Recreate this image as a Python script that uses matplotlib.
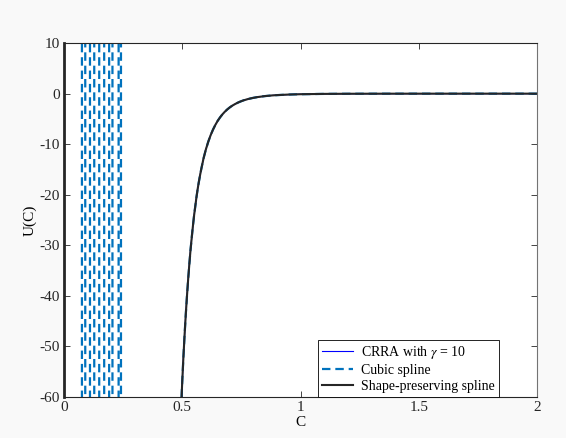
import numpy as np
import matplotlib.pyplot as plt

plt.rcParams['font.family'] = ['Liberation Serif', 'DejaVu Serif']
plt.rcParams['mathtext.fontset'] = 'stix'
plt.rcParams['axes.unicode_minus'] = False

# CRRA utility (gamma = 10)
c_vals = [0.497, 0.50, 0.505, 0.51, 0.515, 0.52, 0.525, 0.53, 0.535, 0.54, 0.545,
          0.55, 0.56, 0.565, 0.57, 0.575, 0.58, 0.59, 0.60, 0.61, 0.62, 0.63,
          0.64, 0.65, 0.66, 0.67, 0.68, 0.69, 0.70, 0.71, 0.72, 0.73, 0.74,
          0.75, 0.76, 0.78, 0.80, 0.82, 0.85, 0.88, 0.90, 0.95, 1.00, 1.10,
          1.20, 1.35, 1.50, 1.75, 2.00]
u_vals = [-60.1, -56.9, -52.0, -47.6, -43.6, -40.0, -36.7, -33.7, -30.9, -28.5,
          -26.2, -24.1, -20.5, -18.9, -17.5, -16.2, -15.0, -12.8, -11.0, -9.50,
          -8.21, -7.11, -6.17, -5.36, -4.68, -4.08, -3.57, -3.13, -2.75, -2.42,
          -2.14, -1.89, -1.67, -1.48, -1.31, -1.04, -0.83, -0.663, -0.48,
          -0.351, -0.29, -0.176, -0.111, -0.047, -0.0215, -0.0075, -0.003,
          -0.0007, -0.0002]

# cubic spline blows up near zero: near-vertical swings off the chart
swing_x = [0.074, 0.078, 0.088, 0.092, 0.108, 0.112, 0.126, 0.130, 0.147, 0.151,
           0.168, 0.172, 0.189, 0.193, 0.203, 0.207, 0.229, 0.233, 0.239, 0.243]
swing_y = [-1e4, 1e4, 1e4, -1e4, -1e4, 1e4, 1e4, -1e4, -1e4, 1e4,
           1e4, -1e4, -1e4, 1e4, 1e4, -1e4, -1e4, 1e4, 1e4, -1e4]

cubic_x = swing_x + [np.nan] + c_vals
cubic_y = swing_y + [np.nan] + u_vals

fig = plt.figure(figsize=(5.66, 4.38), dpi=100, facecolor='#f9f9f9')
ax = fig.add_axes([0.113, 0.0936, 0.836, 0.808])
ax.set_facecolor('white')

ax.plot(c_vals, u_vals, color='blue', lw=0.8, label=r'CRRA with $\gamma$ = 10')
ax.plot(cubic_x, cubic_y, color=(0, 0.447, 0.741), lw=1.6, ls='--',
        dashes=(3.8, 2.2), label='Cubic spline')
ax.plot(c_vals, u_vals, color=(0.15, 0.15, 0.15), lw=1.5,
        label='Shape-preserving spline')

ax.set_xlim(0, 2)
ax.set_ylim(-60, 10)
ax.set_xticks([0, 0.5, 1, 1.5, 2])
ax.set_xticklabels(['0', '0.5', '1', '1.5', '2'])
ax.set_yticks(range(-60, 11, 10))
ax.tick_params(direction='in', length=4, width=0.6, labelsize=11,
               top=True, right=True, colors=(0.15, 0.15, 0.15), pad=3)
for name, sp in ax.spines.items():
    sp.set_color((0.15, 0.15, 0.15))
    sp.set_linewidth(0.8)
ax.spines['left'].set_linewidth(2)
ax.spines['right'].set_color('0.45')

ax.set_xlabel('C', fontsize=11, labelpad=1)
ax.set_ylabel('U(C)', fontsize=11, labelpad=2)

leg = ax.legend(loc='lower right', bbox_to_anchor=(0.92, 0.0), borderaxespad=0,
                fontsize=10, fancybox=False, framealpha=1, edgecolor='black',
                handlelength=2.2, handletextpad=0.6, labelspacing=0.2,
                borderpad=0.3)
leg.get_frame().set_linewidth(0.6)

fig.savefig('out.png', dpi=100, facecolor=fig.get_facecolor())
